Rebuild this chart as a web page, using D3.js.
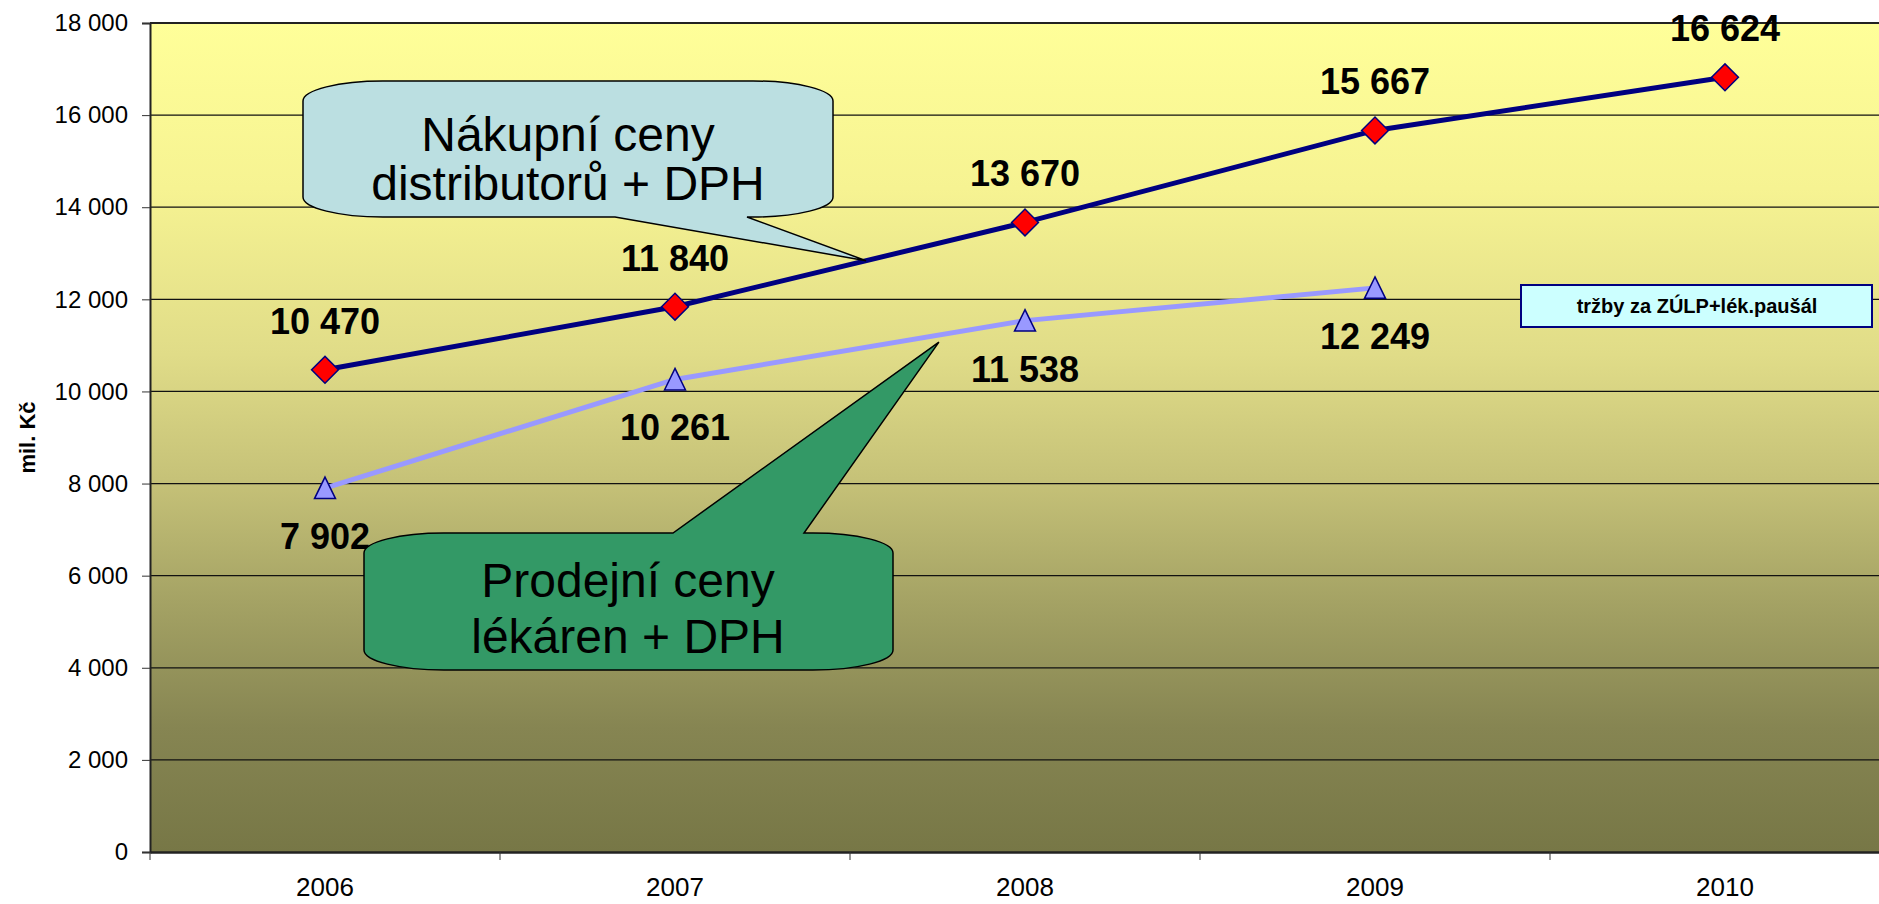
<!DOCTYPE html>
<html>
<head>
<meta charset="utf-8">
<script src="https://cdn.jsdelivr.net/npm/d3@7"></script>
<style>
  body { margin: 0; background: #fff; }
  svg { display: block; font-family: "Liberation Sans", Arial, sans-serif; }
</style>
</head>
<body>
<div id="chart-area"></div>
<script>
// years on the x axis
var years = ['2006', '2007', '2008', '2009', '2010'];

// Nákupní ceny distributorů + DPH (the 2010 point sits higher than its label says)
var nakupni = [10470, 11840, 13670, 15667, 16820];
var nakupniLabels = ['10 470', '11 840', '13 670', '15 667', '16 624'];

// Prodejní ceny lékáren + DPH
var prodejni = [7902, 10261, 11538, 12249];
var prodejniLabels = ['7 902', '10 261', '11 538', '12 249'];

var yTicks = [0, 2000, 4000, 6000, 8000, 10000, 12000, 14000, 16000, 18000];

var margin = { left: 150, top: 23 };
var groupWidth = 1750;   // last band runs off the right edge, like the original
var groupHeight = 829;

var svg = d3.select('#chart-area')
  .append('svg')
    .attr('width', 1879)
    .attr('height', 904);

// yellow -> olive background of the plot area
var grad = svg.append('defs').append('linearGradient')
    .attr('id', 'bg')
    .attr('x1', 0).attr('y1', 0).attr('x2', 0).attr('y2', 1);
[[0, '#ffff99'], [0.2, '#f6f392'], [0.4, '#e0dc88'], [0.55, '#c6c278'],
 [0.7, '#a4a264'], [0.85, '#868552'], [1, '#777746']].forEach(function (s) {
  grad.append('stop').attr('offset', s[0]).attr('stop-color', s[1]);
});

var graph = svg.append('g')
    .attr('transform', `translate(${margin.left}, ${margin.top})`);

var x = d3.scaleBand()
  .domain(years)
  .range([0, groupWidth])
  .padding(0);

var y = d3.scaleLinear()
  .domain([0, 18000])
  .range([groupHeight, 0]);

var cx = function (i) { return x(years[i]) + x.bandwidth() / 2; };

var fmt = d3.formatLocale({ decimal: ',', thousands: ' ', grouping: [3], currency: ['', ''] }).format(',d');

graph.append('rect')
    .attr('width', groupWidth)
    .attr('height', groupHeight)
    .attr('fill', 'url(#bg)');

// horizontal gridlines
graph.selectAll('.grid')
  .data(yTicks.filter(function (t) { return t > 0; }))
  .enter().append('line')
    .attr('x1', 0).attr('x2', groupWidth)
    .attr('y1', function (d) { return y(d); })
    .attr('y2', function (d) { return y(d); })
    .attr('stroke', '#111')
    .attr('stroke-width', 1.2);

// top border
graph.append('line')
    .attr('x1', 0).attr('x2', groupWidth)
    .attr('y1', 0).attr('y2', 0)
    .attr('stroke', '#222')
    .attr('stroke-width', 2);

// y axis
var yAxisCall = d3.axisLeft(y)
  .tickValues(yTicks)
  .tickSize(8)
  .tickPadding(14)
  .tickFormat(fmt);

var yAxis = graph.append('g')
    .attr('class', 'y-axis')
    .call(yAxisCall);
yAxis.select('.domain').attr('stroke', '#222').attr('stroke-width', 2);
yAxis.selectAll('.tick line').attr('stroke', '#333');
yAxis.selectAll('text')
    .attr('font-size', '24px')
    .attr('fill', '#000');

// x axis: labels in the middle of each year, ticks between years
var xAxis = graph.append('g')
    .attr('class', 'x axis')
    .attr('transform', 'translate(0,' + groupHeight + ')')
    .call(d3.axisBottom(x).tickSize(0).tickPadding(26));
xAxis.select('.domain').attr('stroke', '#222').attr('stroke-width', 2.5);
xAxis.selectAll('text')
    .attr('font-size', '26px')
    .attr('fill', '#000');

xAxis.selectAll('.bound')
  .data(years.map(function (d) { return x(d); }).concat([groupWidth]))
  .enter().append('line')
    .attr('x1', function (d) { return d; })
    .attr('x2', function (d) { return d; })
    .attr('y1', 0).attr('y2', 8)
    .attr('stroke', '#333');

// y axis title
graph.append('text')
    .attr('transform', 'rotate(-90)')
    .attr('x', -(groupHeight / 2))
    .attr('y', -115)
    .attr('text-anchor', 'middle')
    .attr('font-size', '22px')
    .attr('font-weight', 'bold')
    .text('mil. Kč');

// lines
var line = d3.line()
  .x(function (d, i) { return cx(i); })
  .y(function (d) { return y(d); });

graph.append('path')
    .datum(prodejni)
    .attr('d', line)
    .attr('fill', 'none')
    .attr('stroke', '#9999ff')
    .attr('stroke-width', 5);

graph.append('path')
    .datum(nakupni)
    .attr('d', line)
    .attr('fill', 'none')
    .attr('stroke', '#000080')
    .attr('stroke-width', 5);

// markers
graph.selectAll('.tri')
  .data(prodejni)
  .enter().append('path')
    .attr('d', 'M0,-11L10.5,10.5L-10.5,10.5Z')
    .attr('transform', function (d, i) { return `translate(${cx(i)}, ${y(d)})`; })
    .attr('fill', '#9999ff')
    .attr('stroke', '#000080')
    .attr('stroke-width', 1.5);

graph.selectAll('.dia')
  .data(nakupni)
  .enter().append('rect')
    .attr('x', -9.5).attr('y', -9.5)
    .attr('width', 19).attr('height', 19)
    .attr('transform', function (d, i) { return `translate(${cx(i)}, ${y(d)}) rotate(45)`; })
    .attr('fill', '#ff0000')
    .attr('stroke', '#000080')
    .attr('stroke-width', 1.5);

// data labels
graph.selectAll('.lab1')
  .data(nakupni)
  .enter().append('text')
    .attr('x', function (d, i) { return cx(i); })
    .attr('y', function (d) { return y(d) - 36; })
    .attr('text-anchor', 'middle')
    .attr('font-size', '36px')
    .attr('font-weight', 'bold')
    .text(function (d, i) { return nakupniLabels[i]; });

graph.selectAll('.lab2')
  .data(prodejni)
  .enter().append('text')
    .attr('x', function (d, i) { return cx(i); })
    .attr('y', function (d) { return y(d) + 61; })
    .attr('text-anchor', 'middle')
    .attr('font-size', '36px')
    .attr('font-weight', 'bold')
    .text(function (d, i) { return prodejniLabels[i]; });

// callout shape: rounded box with a wedge on the top or bottom edge
function callout(x0, y0, x1, y1, rx, ry, side, b0, b1, tip) {
  var s = `M${x0 + rx},${y0}`;
  if (side === 'top') s += ` L${b0},${y0} L${tip[0]},${tip[1]} L${b1},${y0}`;
  s += ` L${x1 - rx},${y0} A${rx},${ry} 0 0 1 ${x1},${y0 + ry} L${x1},${y1 - ry} A${rx},${ry} 0 0 1 ${x1 - rx},${y1}`;
  if (side === 'bottom') s += ` L${b1},${y1} L${tip[0]},${tip[1]} L${b0},${y1}`;
  s += ` L${x0 + rx},${y1} A${rx},${ry} 0 0 1 ${x0},${y1 - ry} L${x0},${y0 + ry} A${rx},${ry} 0 0 1 ${x0 + rx},${y0} Z`;
  return s;
}

// tips sit on the lines between two years
var tip1 = [cx(1) + 0.546 * x.bandwidth(), y(nakupni[1] + 0.546 * (nakupni[2] - nakupni[1]))];
var tip2 = [cx(1) + 0.754 * x.bandwidth(), y(prodejni[1] + 0.754 * (prodejni[2] - prodejni[1])) + 7];

graph.append('path')
    .attr('d', callout(153, 58, 683, 194, 80, 20, 'bottom', 465, 597, tip1))
    .attr('fill', '#bbdfe1')
    .attr('stroke', '#000')
    .attr('stroke-width', 1.5);

graph.append('text')
    .attr('text-anchor', 'middle')
    .attr('font-size', '48px')
  .selectAll('tspan')
  .data(['Nákupní ceny', 'distributorů + DPH'])
  .enter().append('tspan')
    .attr('x', 418)
    .attr('y', function (d, i) { return 128 + i * 49; })
    .text(function (d) { return d; });

graph.append('path')
    .attr('d', callout(214, 510, 743, 647, 80, 20, 'top', 523, 654, tip2))
    .attr('fill', '#339966')
    .attr('stroke', '#000')
    .attr('stroke-width', 1.5);

graph.append('text')
    .attr('text-anchor', 'middle')
    .attr('font-size', '48px')
  .selectAll('tspan')
  .data(['Prodejní ceny', 'lékáren + DPH'])
  .enter().append('tspan')
    .attr('x', 478)
    .attr('y', function (d, i) { return 574 + i * 56; })
    .text(function (d) { return d; });

// small note box on the right
graph.append('rect')
    .attr('x', 1371).attr('y', 262)
    .attr('width', 351).attr('height', 42)
    .attr('fill', '#ccffff')
    .attr('stroke', '#000080')
    .attr('stroke-width', 2);

graph.append('text')
    .attr('x', 1547)
    .attr('y', 290)
    .attr('text-anchor', 'middle')
    .attr('font-size', '20px')
    .attr('font-weight', 'bold')
    .text('tržby za ZÚLP+lék.paušál');
</script>
</body>
</html>
